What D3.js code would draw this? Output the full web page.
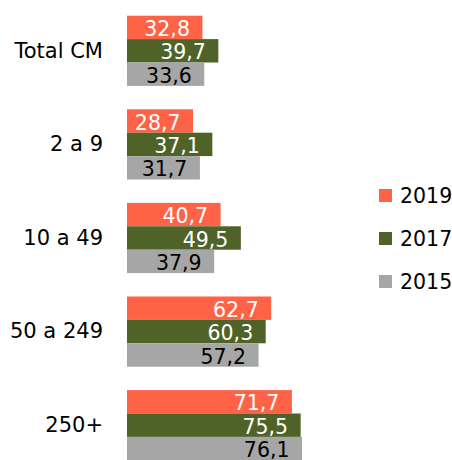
<!DOCTYPE html>
<html>
<head>
<meta charset="utf-8">
<script src="https://cdn.jsdelivr.net/npm/d3@7"></script>
<style>
  body { margin: 0; background: #fff; }
  svg { display: block; font-family: 'DejaVu Sans', Verdana, sans-serif; }
</style>
</head>
<body>
<div id="chart"></div>
<script>
const categories = ['Total CM', '2 a 9', '10 a 49', '50 a 249', '250+'];
const series = ['2019', '2017', '2015'];
const values2019 = [32.8, 28.7, 40.7, 62.7, 71.7];
const values2017 = [39.7, 37.1, 49.5, 60.3, 75.5];
const values2015 = [33.6, 31.7, 37.9, 57.2, 76.1];

const colors = ['#FF6347', '#4F6228', '#A6A6A6'];
const labelColors = ['#fff', '#fff', '#000'];

const width = 452, height = 460;

const rows = categories.map(function(c, i) {
	return { cat: c, vals: [values2019[i], values2017[i], values2015[i]] };
});

const svg = d3.select('#chart')
	.append('svg')
	.attr('width', width)
	.attr('height', height);

const x = d3.scaleLinear()
	.domain([0, 100])
	.range([127, 357]);

const y = d3.scaleBand()
	.domain(categories)
	.range([4, 472])
	.paddingInner(0.25)
	.paddingOuter(0.125);

const ySub = d3.scaleBand()
	.domain(series)
	.range([0, y.bandwidth()]);

const fmt = function(v) { return d3.format('.1f')(v).replace('.', ','); };

const groups = svg.selectAll('g.cat')
	.data(rows)
	.enter().append('g')
	.attr('class', 'cat')
	.attr('transform', function(d) { return 'translate(0,' + y(d.cat) + ')'; });

const bars = groups.selectAll('g.bar')
	.data(function(d) { return d.vals.map(function(v, i) { return { s: series[i], v: v, i: i }; }); })
	.enter().append('g')
	.attr('class', 'bar');

bars.append('rect')
	.attr('x', x(0))
	.attr('y', function(d) { return ySub(d.s); })
	.attr('width', function(d) { return x(d.v) - x(0); })
	.attr('height', ySub.bandwidth())
	.attr('fill', function(d) { return colors[d.i]; });

bars.append('text')
	.attr('x', function(d) { return x(d.v) - 12.5; })
	.attr('y', function(d) { return ySub(d.s) + ySub.bandwidth() - 3; })
	.attr('text-anchor', 'end')
	.attr('font-size', 20.5)
	.attr('fill', function(d) { return labelColors[d.i]; })
	.text(function(d) { return fmt(d.v); });

// category axis
const yAxis = d3.axisLeft(y).tickSize(0).tickPadding(24);
const ax = svg.append('g')
	.attr('transform', 'translate(' + x(0) + ',0)')
	.call(yAxis);
ax.select('.domain').remove();
ax.selectAll('text')
	.attr('font-size', 21)
	.attr('font-family', "'DejaVu Sans', Verdana, sans-serif")
	.attr('fill', '#000');

// legend
const legend = svg.selectAll('g.legend')
	.data(series)
	.enter().append('g')
	.attr('class', 'legend')
	.attr('transform', function(d, i) { return 'translate(379,' + (189 + i * 43) + ')'; });

legend.append('rect')
	.attr('width', 13)
	.attr('height', 13)
	.attr('fill', function(d, i) { return colors[i]; });

legend.append('text')
	.attr('x', 21)
	.attr('y', 6.5)
	.attr('dy', '0.36em')
	.attr('font-size', 20.5)
	.text(function(d) { return d; });
</script>
</body>
</html>
